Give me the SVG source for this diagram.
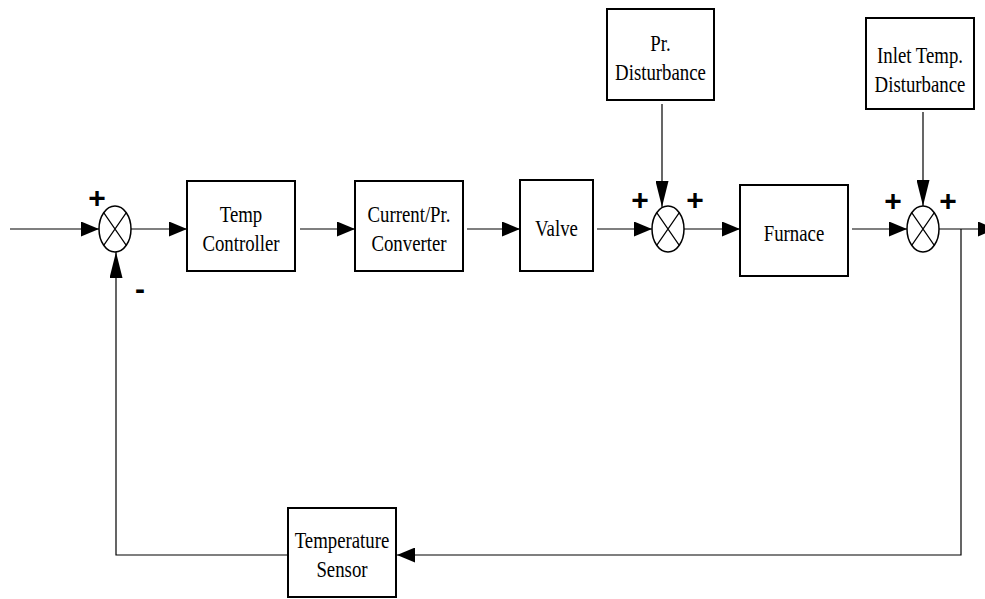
<svg xmlns="http://www.w3.org/2000/svg" width="985" height="599" viewBox="0 0 985 599">
<style>
.box{fill:#fff;stroke:#000;stroke-width:2}
.sum{fill:#fff;stroke:#000;stroke-width:1.5}
.x{stroke:#000;stroke-width:1.2;fill:none}
.ln{fill:none;stroke:#000;stroke-width:1.2}
.t{font-family:"Liberation Serif","Times New Roman",serif;font-size:18.8px;text-anchor:middle;fill:#000}
.s{font-family:"Liberation Sans",Arial,sans-serif;font-weight:bold;font-size:30px;text-anchor:middle;fill:#000}
</style>
<defs>
<marker id="ah" viewBox="0 0 18 15" refX="18" refY="7.5" markerWidth="18" markerHeight="15" markerUnits="userSpaceOnUse" orient="auto"><path d="M0,0 L18,7.5 L0,15 z" fill="#000"/></marker>
<marker id="av" viewBox="0 0 26 13" refX="26" refY="6.5" markerWidth="26" markerHeight="13" markerUnits="userSpaceOnUse" orient="auto"><path d="M0,0 L26,6.5 L0,13 z" fill="#000"/></marker>
</defs>
<rect width="985" height="599" fill="#fff"/>

<g id="connectors">
<path class="ln" d="M10,229 H99" marker-end="url(#ah)"/>
<path class="ln" d="M131,229 H187" marker-end="url(#ah)"/>
<path class="ln" d="M300,229 H355" marker-end="url(#ah)"/>
<path class="ln" d="M467,229 H520" marker-end="url(#ah)"/>
<path class="ln" d="M597,229 H652" marker-end="url(#ah)"/>
<path class="ln" d="M662,104 V207" marker-end="url(#av)"/>
<path class="ln" d="M684,229 H740" marker-end="url(#ah)"/>
<path class="ln" d="M852,229 H907" marker-end="url(#ah)"/>
<path class="ln" d="M923,112 V206" marker-end="url(#av)"/>
<path class="ln" d="M939,229 H996" marker-end="url(#ah)"/>
<path class="ln" d="M961,229 V555 H397" marker-end="url(#ah)"/>
<path class="ln" d="M288,555 H116 V252" marker-end="url(#av)"/>
</g>

<g id="sum1">
<ellipse class="sum" cx="115" cy="229" rx="16" ry="23"/>
<path class="x" d="M103.7,212.7 L126.3,245.3 M126.3,212.7 L103.7,245.3"/>
<text class="s" x="97" y="208">+</text>
<text class="s" x="140" y="299">-</text>
</g>

<g id="temp-controller">
<rect class="box" x="187" y="181" width="108" height="90"/>
<text class="t" transform="translate(241,222) scale(1,1.28)">Temp</text>
<text class="t" transform="translate(241,251) scale(1,1.28)">Controller</text>
</g>

<g id="current-pr-converter">
<rect class="box" x="355" y="181" width="108" height="90"/>
<text class="t" transform="translate(409,222) scale(1,1.28)">Current/Pr.</text>
<text class="t" transform="translate(409,251) scale(1,1.28)">Converter</text>
</g>

<g id="valve">
<rect class="box" x="520" y="180" width="73" height="91"/>
<text class="t" transform="translate(556.5,236) scale(1,1.28)">Valve</text>
</g>

<g id="pr-disturbance">
<rect class="box" x="607" y="9" width="107" height="91"/>
<text class="t" transform="translate(660.5,51) scale(1,1.28)">Pr.</text>
<text class="t" transform="translate(660.5,80) scale(1,1.28)">Disturbance</text>
</g>

<g id="sum2">
<ellipse class="sum" cx="668" cy="229" rx="16" ry="23"/>
<path class="x" d="M656.7,212.7 L679.3,245.3 M679.3,212.7 L656.7,245.3"/>
<text class="s" x="640" y="210">+</text>
<text class="s" x="695" y="210">+</text>
</g>

<g id="furnace">
<rect class="box" x="740" y="185" width="108" height="91"/>
<text class="t" transform="translate(794,241) scale(1,1.28)">Furnace</text>
</g>

<g id="inlet-temp-disturbance">
<rect class="box" x="866" y="18" width="108" height="91"/>
<text class="t" transform="translate(920,63) scale(1,1.28)">Inlet Temp.</text>
<text class="t" transform="translate(920,92) scale(1,1.28)">Disturbance</text>
</g>

<g id="sum3">
<ellipse class="sum" cx="923" cy="229" rx="16" ry="23"/>
<path class="x" d="M911.7,212.7 L934.3,245.3 M934.3,212.7 L911.7,245.3"/>
<text class="s" x="893" y="211">+</text>
<text class="s" x="948" y="211">+</text>
</g>

<g id="temperature-sensor">
<rect class="box" x="288" y="508" width="108" height="89"/>
<text class="t" transform="translate(342,548) scale(1,1.28)">Temperature</text>
<text class="t" transform="translate(342,577) scale(1,1.28)">Sensor</text>
</g>
</svg>
